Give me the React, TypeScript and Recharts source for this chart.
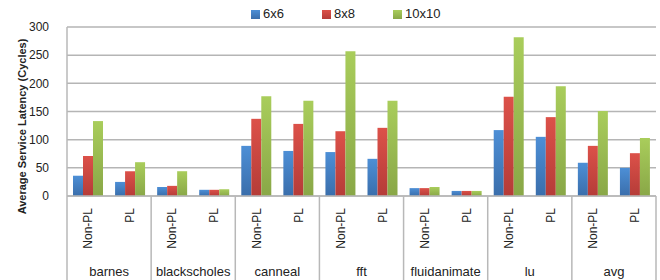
import { BarChart, Bar, XAxis, YAxis, CartesianGrid } from "recharts"

const groups = ["barnes", "blackscholes", "canneal", "fft", "fluidanimate", "lu", "avg"]
const modes = ["Non-PL", "PL"]

// values per benchmark, [Non-PL, PL]
const lat6x6 = [36, 25, 16, 11, 89, 80, 78, 66, 14, 9, 117, 105, 59, 50]
const lat8x8 = [71, 44, 18, 11, 137, 128, 115, 121, 14, 9, 176, 140, 89, 76]
const lat10x10 = [133, 60, 44, 12, 177, 169, 257, 169, 16, 9, 282, 195, 151, 103]
const yTicks = [0, 50, 100, 150, 200, 250, 300]

const series = [
  { key: "6x6", values: lat6x6, top: "#4d8fd6", bottom: "#3a6eab" },
  { key: "8x8", values: lat8x8, top: "#dc5149", bottom: "#b53c38" },
  { key: "10x10", values: lat10x10, top: "#a9cd5b", bottom: "#89a747" },
]

const data = groups.flatMap((g, gi) =>
  modes.map((m, mi) => {
    const i = gi * 2 + mi
    const row: any = { group: g, mode: m, id: `${g}-${m}` }
    series.forEach((s) => (row[s.key] = s.values[i]))
    return row
  })
)

const W = 660
const H = 280
const M = { top: 27, right: 4, left: 0, bottom: 0 }
const Y_W = 67
const X_H = 84
const FONT = "'Liberation Sans', Arial, sans-serif"
const band = (W - M.left - M.right - Y_W) / data.length
const sepColor = "#b8b8b8"

function XTick(props: any) {
  const { x, y, payload } = props
  const idx = payload.index
  const row = data[idx]
  return (
    <g>
      <text
        transform={`translate(${x},${y + 12}) rotate(-90)`}
        textAnchor="end"
        dy="0.35em"
        fontSize={12}
        fontFamily={FONT}
        fill="#222"
      >
        {row.mode}
      </text>
      {idx % 2 === 0 && (
        <>
          <text x={x + band / 2} y={y + 80} textAnchor="middle" fontSize={13} fontFamily={FONT} fill="#222">
            {row.group}
          </text>
          <line x1={x - band / 2} x2={x - band / 2} y1={y} y2={y + X_H} stroke={sepColor} strokeWidth={1.5} />
        </>
      )}
      {idx === data.length - 1 && (
        <line x1={x + band / 2} x2={x + band / 2} y1={y} y2={y + X_H} stroke={sepColor} strokeWidth={1.5} />
      )}
    </g>
  )
}

function LegendBox() {
  return (
    <div
      style={{
        position: "absolute",
        top: 6,
        left: 251,
        display: "flex",
        fontFamily: FONT,
        fontSize: 13,
        color: "#222",
        lineHeight: "16px",
      }}
    >
      {series.map((s) => (
        <div key={s.key} style={{ display: "flex", alignItems: "center", width: 71 }}>
          <span
            style={{
              width: 9,
              height: 9,
              marginRight: 3,
              display: "inline-block",
              background: `linear-gradient(${s.top}, ${s.bottom})`,
            }}
          />
          {s.key}
        </div>
      ))}
    </div>
  )
}

function YLabel(props: any) {
  const vb = props.viewBox
  const cx = 22
  const cy = vb.y + vb.height / 2 + 15
  return (
    <text
      transform={`translate(${cx},${cy}) rotate(-90)`}
      textAnchor="middle"
      dy="0.35em"
      fontSize={11}
      fontWeight="bold"
      fontFamily={FONT}
      fill="#222"
    >
      Average Service Latency (Cycles)
    </text>
  )
}

export default function App() {
  return (
    <div style={{ position: "absolute", left: 0, top: 0, width: W, height: H, background: "#fff" }}>
      <BarChart width={W} height={H} data={data} margin={M} barGap={0} barCategoryGap={6}>
        <defs>
          {series.map((s, i) => (
            <linearGradient key={s.key} id={`grad${i}`} x1="0" y1="0" x2="0" y2="1">
              <stop offset="0%" stopColor={s.top} />
              <stop offset="100%" stopColor={s.bottom} />
            </linearGradient>
          ))}
        </defs>
        <CartesianGrid vertical={false} stroke="#b5b5b5" strokeWidth={1.5} />
        <XAxis
          dataKey="id"
          height={X_H}
          interval={0}
          tickLine={false}
          tickSize={0}
          tickMargin={0}
          axisLine={{ stroke: sepColor, strokeWidth: 1.5 }}
          tick={<XTick />}
        />
        <YAxis
          width={Y_W}
          domain={[0, 300]}
          ticks={yTicks}
          interval={0}
          tickLine={false}
          tickMargin={12}
          axisLine={{ stroke: sepColor, strokeWidth: 1.5 }}
          tick={{ fontSize: 12, fontFamily: FONT, fill: "#222" }}
          label={<YLabel />}
        />
        {series.map((s, i) => (
          <Bar key={s.key} dataKey={s.key} fill={`url(#grad${i})`} isAnimationActive={false} />
        ))}
      </BarChart>
      <LegendBox />
    </div>
  )
}
